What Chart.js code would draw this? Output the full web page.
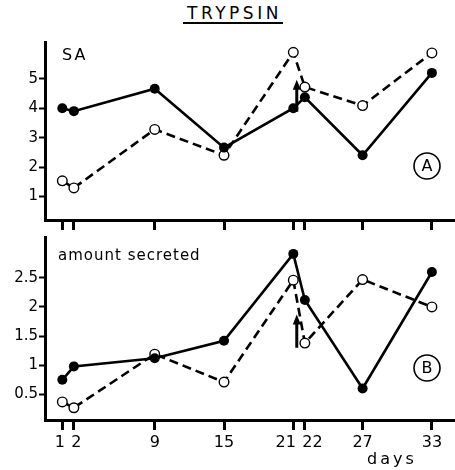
<!DOCTYPE html>
<html>
<head>
<meta charset="utf-8">
<script src="https://cdn.jsdelivr.net/npm/chart.js@4"></script>
<style>
html,body{margin:0;padding:0;background:#fff;}
body{width:455px;height:470px;position:relative;overflow:hidden;font-family:"DejaVu Sans",sans-serif;}
#title{position:absolute;left:183px;width:100px;top:3px;height:21px;text-align:center;font-size:17px;letter-spacing:3.5px;line-height:21px;border-bottom:2px solid #000;padding-left:3px;box-sizing:border-box;}
.box{position:absolute;left:0;width:455px;}
</style>
</head>
<body>
<div id="title">TRYPSIN</div>
<div class="box" style="top:0;height:232px"><canvas id="c1"></canvas></div>
<div class="box" style="top:232px;height:238px"><canvas id="c2"></canvas></div>
<script>
// ---- data ----
const days = [1, 2, 9, 15, 21, 22, 27, 33];
const saSolid  = [4.0, 3.9, 4.66, 2.66, 4.0, 4.37, 2.4, 5.2];
const saDashed = [1.53, 1.29, 3.28, 2.4, 5.9, 4.72, 4.09, 5.88];
const secSolid  = [0.75, 0.98, 1.12, 1.42, 2.91, 2.12, 0.6, 2.6];
const secDashed = [0.37, 0.27, 1.19, 0.71, 2.46, 1.38, 2.47, 2.0];
const saTicks = [1, 2, 3, 4, 5];
const secTicks = [0.5, 1, 1.5, 2, 2.5];
const saArrow = {day: 21.3, from: 3.88, to: 4.97};
const secArrow = {day: 21.3, from: 1.3, to: 1.87};

const FONT = '"DejaVu Sans", sans-serif';

// spacing so that close tick labels (1/2, 21/22) don't run together
const labelPad = {1:'1 ', 2:' 2', 21:'21   ', 22:'   22'};

function pts(vals){ return days.map((d,i)=>({x:d, y:vals[i]})); }

function makeDatasets(solid, dashed){
  return [
    {data: pts(solid), borderColor:'#000', borderWidth:2.6, backgroundColor:'#000',
     pointRadius:5, pointBorderWidth:0, pointBackgroundColor:'#000', tension:0, clip:false},
    {data: pts(dashed), borderColor:'#000', borderWidth:2.6, borderDash:[9,5],
     pointRadius:4.8, pointBorderWidth:1.4, pointBorderColor:'#000', pointBackgroundColor:'#fff', tension:0, clip:false}
  ];
}

function arrowPlugin(arrow, label, labelFont, labelSpacing, labelDx, labelDy, circ, circDy){
  return {
    id:'extras',
    afterDatasetsDraw(chart){
      const ctx = chart.ctx, xs = chart.scales.x, ys = chart.scales.y, a = chart.chartArea;
      const x = xs.getPixelForValue(arrow.day);
      const y1 = ys.getPixelForValue(arrow.from);
      const y2 = ys.getPixelForValue(arrow.to);
      ctx.save();
      ctx.strokeStyle = '#000'; ctx.fillStyle = '#000'; ctx.lineWidth = 3;
      ctx.beginPath(); ctx.moveTo(x, y1); ctx.lineTo(x, y2 + 8); ctx.stroke();
      ctx.beginPath(); ctx.moveTo(x, y2); ctx.lineTo(x - 4, y2 + 10); ctx.lineTo(x + 4, y2 + 10); ctx.closePath(); ctx.fill();
      ctx.font = labelFont + ' ' + FONT;
      ctx.textAlign = 'left'; ctx.textBaseline = 'middle';
      ctx.letterSpacing = labelSpacing;
      ctx.fillText(label, a.left + labelDx, a.top + labelDy);
      const cx = a.right - 28, cy = a.bottom - circDy;
      ctx.lineWidth = 1.6;
      ctx.beginPath(); ctx.arc(cx, cy, 13, 0, Math.PI*2); ctx.stroke();
      ctx.letterSpacing = '0px';
      ctx.font = '16px ' + FONT; ctx.textAlign = 'center';
      ctx.fillText(circ, cx, cy + 1);
      ctx.restore();
    }
  };
}

function makeChart(id, solid, dashed, yMin, yMax, yTicks, opts){
  return new Chart(document.getElementById(id), {
    type:'line',
    data:{datasets: makeDatasets(solid, dashed)},
    options:{
      responsive:true, maintainAspectRatio:false, animation:false,
      layout:{autoPadding:false, padding:{top:opts.padTop, left:0, right:0, bottom:0}},
      plugins:{legend:{display:false}, tooltip:{enabled:false}},
      scales:{
        x:{type:'linear', min:-0.5, max:35,
          afterBuildTicks(s){ s.ticks = days.map(v=>({value:v})); },
          afterFit(s){ s.height = opts.xHeight; s.paddingLeft = 0; s.paddingRight = 0; },
          border:{display:true, color:'#000', width:3},
          grid:{display:true, drawOnChartArea:false, drawTicks:true, tickLength:10, tickWidth:3, tickColor:'#000'},
          ticks:{display:opts.xLabels, color:'#000', font:{size:16, family:FONT}, padding:3, maxRotation:0, autoSkip:false,
            callback:(v)=> labelPad[v] !== undefined ? labelPad[v] : String(v)}
        },
        y:{type:'linear', min:yMin, max:yMax,
          afterBuildTicks(s){ s.ticks = yTicks.map(v=>({value:v})); },
          afterFit(s){ s.width = 45; s.paddingTop = 0; s.paddingBottom = 0; },
          border:{display:true, color:'#000', width:3},
          grid:{display:true, drawOnChartArea:false, drawTicks:true, tickLength:6, tickWidth:2, tickColor:'#000'},
          ticks:{color:'#000', font:{size:15, family:FONT}, padding:1, callback:(v)=>String(v)}
        }
      }
    },
    plugins:opts.plugins
  });
}

makeChart('c1', saSolid, saDashed, 0.2, 6.25, saTicks,
  {padTop:42, xHeight:12, xLabels:false, plugins:[arrowPlugin(saArrow, 'SA', '16px', '2px', 17, 14, 'A', 54)]});

const daysPlugin = {
  id:'days',
  afterDraw(chart){
    const ctx = chart.ctx;
    ctx.save();
    ctx.font = '16px ' + FONT; ctx.fillStyle = '#000';
    ctx.textAlign = 'center'; ctx.textBaseline = 'middle';
    ctx.letterSpacing = '3px';
    ctx.fillText('days', 392, 228);
    ctx.restore();
  }
};
makeChart('c2', secSolid, secDashed, 0.06, 3.2, secTicks,
  {padTop:5, xHeight:50, xLabels:true, plugins:[arrowPlugin(secArrow, 'amount secreted', '15px', '1px', 13, 19, 'B', 52), daysPlugin]});
</script>
</body>
</html>
